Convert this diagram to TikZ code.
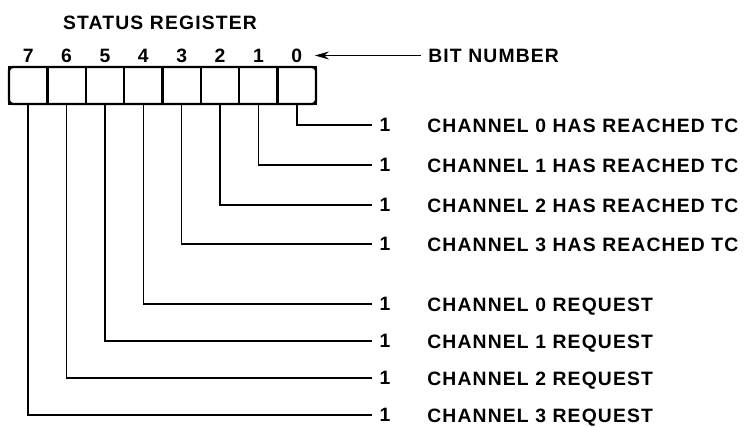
\documentclass[tikz,border=0pt]{standalone}
\usepackage{fontspec}
\setsansfont[LetterSpace=6]{Liberation Sans}
\usetikzlibrary{arrows.meta,positioning}

\begin{document}
\begin{tikzpicture}[font=\sffamily\bfseries\fontsize{11}{13}\selectfont,>={Stealth[length=8pt,width=4.5pt]},
  cell/.style={draw,line width=1.3pt,minimum width=.7675cm,minimum height=.74cm,inner sep=0pt,outer sep=0pt},
  wire/.style={line width=.9pt},
  digit/.style={inner sep=0pt},
  onelbl/.style={inner sep=4pt,text depth=0pt},
  meaning/.style={anchor=west,inner sep=0pt,text depth=0pt}]
\useasboundingbox (0,0) rectangle (14.94,8.54);
\node (title) at (3.2,8.08) {STATUS REGISTER};
% register cells, bit 7 on the left
\foreach \b in {0,...,7}{
  \node[cell] (b\b) at ({.18+.7675*(7.5-\b)},6.83) {};
  \node[digit] (n\b) at ({.18+.7675*(7.5-\b)},7.43) {\b};
}
\draw[line width=1.4pt,rounded corners=2pt] (b7.north west) rectangle (b0.south east);
\node[meaning] (bitnum) at (8.56,7.43) {BIT NUMBER};
\draw[wire,->,shorten <=4pt,shorten >=7pt] (bitnum.west) -- (n0.east);
% one line per status bit
\foreach \b/\y/\txt in {0/6.04/CHANNEL 0 HAS REACHED TC,1/5.24/CHANNEL 1 HAS REACHED TC,
  2/4.44/CHANNEL 2 HAS REACHED TC,3/3.66/CHANNEL 3 HAS REACHED TC,
  4/2.46/CHANNEL 0 REQUEST,5/1.72/CHANNEL 1 REQUEST,6/.98/CHANNEL 2 REQUEST,7/.24/CHANNEL 3 REQUEST}{
  \node[onelbl] (one\b) at (7.7,\y) {1};
  \node[meaning] (txt\b) at (8.54,\y-.02) {\txt};
  \draw[wire] (b\b.south) |- (one\b.west);
}
\end{tikzpicture}
\end{document}
